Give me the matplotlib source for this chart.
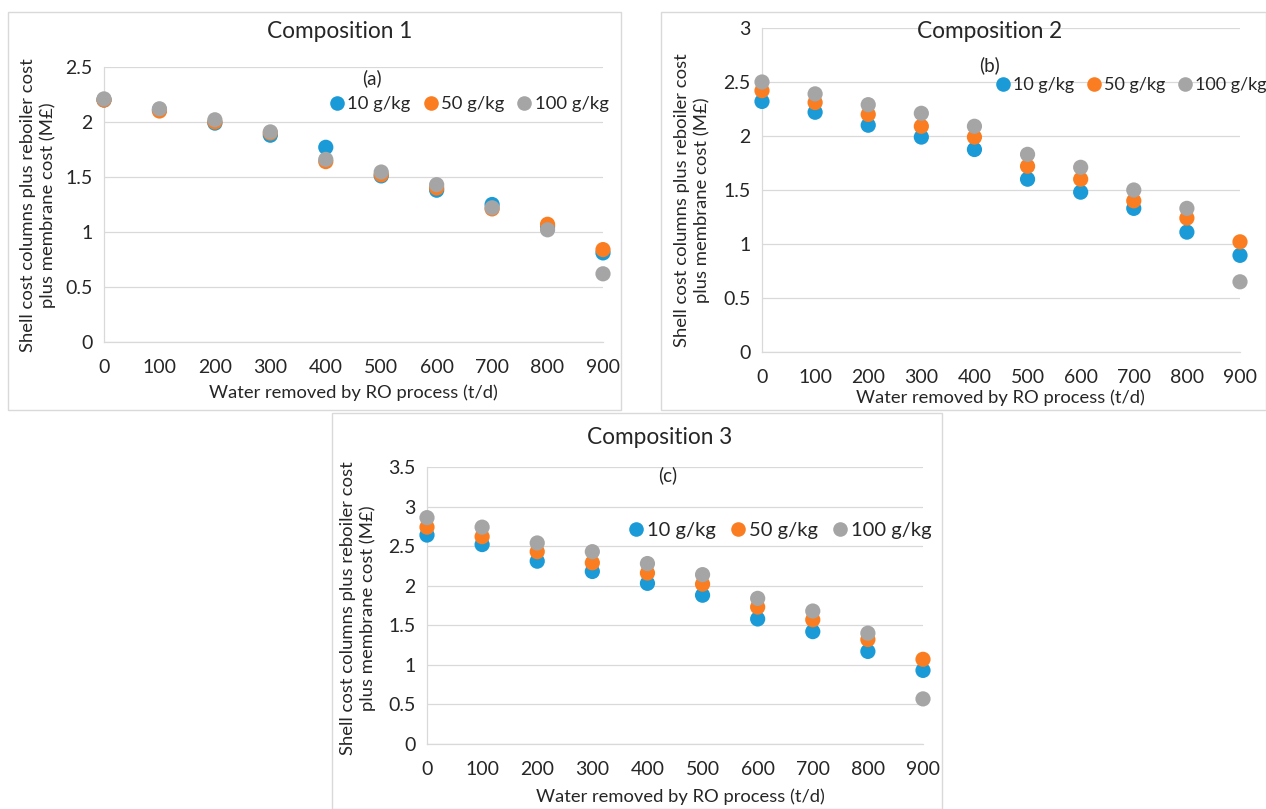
import matplotlib
matplotlib.use("Agg")
import matplotlib.pyplot as plt
from matplotlib.lines import Line2D
from matplotlib.patches import Rectangle

plt.rcParams['font.family'] = ['Lato', 'DejaVu Sans']

x_vals = [0, 100, 200, 300, 400, 500, 600, 700, 800, 900]
series_labels = ['10 g/kg', '50 g/kg', '100 g/kg']

comp1_10 = [2.20, 2.11, 1.99, 1.88, 1.77, 1.51, 1.38, 1.25, 1.05, 0.81]
comp1_50 = [2.20, 2.10, 2.00, 1.90, 1.64, 1.52, 1.40, 1.21, 1.07, 0.84]
comp1_100 = [2.21, 2.12, 2.02, 1.91, 1.66, 1.545, 1.43, 1.22, 1.02, 0.62]

comp2_10 = [2.32, 2.22, 2.10, 1.99, 1.875, 1.60, 1.48, 1.33, 1.11, 0.895]
comp2_50 = [2.42, 2.31, 2.20, 2.09, 1.99, 1.72, 1.60, 1.40, 1.24, 1.02]
comp2_100 = [2.50, 2.39, 2.29, 2.21, 2.09, 1.83, 1.71, 1.50, 1.33, 0.65]

comp3_10 = [2.64, 2.52, 2.31, 2.18, 2.03, 1.88, 1.58, 1.42, 1.17, 0.93]
comp3_50 = [2.74, 2.62, 2.43, 2.29, 2.16, 2.02, 1.73, 1.57, 1.32, 1.07]
comp3_100 = [2.86, 2.74, 2.54, 2.43, 2.28, 2.14, 1.84, 1.68, 1.40, 0.57]

colors = ['#1a9ad6', '#fa7d22', '#a5a5a5']

W, H = 1266, 809
fig = plt.figure(figsize=(W / 100, H / 100), dpi=100)
fig.patch.set_facecolor('white')

def px_rect(x0, y0, x1, y1):
    return [x0 / W, 1 - y1 / H, (x1 - x0) / W, (y1 - y0) / H]

def fx(x):
    return x / W

def fy(y):
    return 1 - y / H

# panel frames
for (x0, y0, x1, y1) in [(8, 12, 621, 410), (661, 12, 1266, 410), (332, 413, 942, 809)]:
    fig.add_artist(Rectangle((fx(x0), fy(y1)), fx(x1) - fx(x0), fy(y0) - fy(y1),
                             transform=fig.transFigure, fill=False,
                             edgecolor='#d9d9d9', linewidth=1.0))

ylabel = 'Shell cost columns plus reboiler cost\nplus membrane cost (M£)'
xlabel = 'Water removed by RO process (t/d)'

panels = [
    dict(rect=(104, 67, 603, 342), ymax=2.5, data=[comp1_10, comp1_50, comp1_100],
         title='Composition 1', title_xy=(340, 32), letter='(a)', letter_xy=(372, 78),
         leg_xy=(468, 104), leg_fs=13.3, ylab_x=38, ylab_y=205, xlab_xy=(353, 393)),
    dict(rect=(762, 28, 1240, 352), ymax=3.0, data=[comp2_10, comp2_50, comp2_100],
         title='Composition 2', title_xy=(990, 32), letter='(b)', letter_xy=(990, 65),
         leg_xy=(1130, 85), leg_fs=13.0, ylab_x=692, ylab_y=200, xlab_xy=(1000, 398)),
    dict(rect=(427, 467, 923, 744), ymax=3.5, data=[comp3_10, comp3_50, comp3_100],
         title='Composition 3', title_xy=(660, 437), letter='(c)', letter_xy=(668, 475),
         leg_xy=(779, 530), leg_fs=14.5, ylab_x=358, ylab_y=608, xlab_xy=(680, 797)),
]

for p in panels:
    ax = fig.add_axes(px_rect(*p['rect']))
    for ys, c, lab in zip(p['data'], colors, series_labels):
        ax.scatter(x_vals, ys, s=120, color=c, edgecolors='none', zorder=3, clip_on=False, label=lab)
    ax.set_xlim(0, 900)
    ax.set_ylim(0, p['ymax'])
    ax.set_xticks(x_vals)
    yt = [i * 0.5 for i in range(int(p['ymax'] / 0.5) + 1)]
    ax.set_yticks(yt)
    ax.set_yticklabels([('%g' % v) for v in yt])
    ax.grid(axis='y', color='#d9d9d9', linewidth=0.9, zorder=0)
    ax.set_axisbelow(True)
    for s in ['top', 'right']:
        ax.spines[s].set_visible(False)
    for s in ['left', 'bottom']:
        ax.spines[s].set_color('#d9d9d9')
        ax.spines[s].set_linewidth(0.9)
    ax.tick_params(length=0, labelsize=14, colors='#262626', pad=8)
    ax.tick_params(axis='x', pad=12)
    fig.text(fx(p['title_xy'][0]), fy(p['title_xy'][1]), p['title'], ha='center', va='center',
             fontsize=16.3, color='#262626')
    fig.text(fx(p['letter_xy'][0]), fy(p['letter_xy'][1]), p['letter'], ha='center', va='center',
             fontsize=13.5, color='#262626')
    fig.text(fx(p['ylab_x']), fy(p['ylab_y']), ylabel, rotation=90, ha='center', va='center',
             fontsize=13.3, color='#262626', multialignment='center', linespacing=1.3)
    fig.text(fx(p['xlab_xy'][0]), fy(p['xlab_xy'][1]), xlabel, ha='center', va='center',
             fontsize=13.2, color='#262626')
    handles = [Line2D([], [], marker='o', linestyle='none', markersize=10.5, markerfacecolor=c,
                      markeredgecolor='none') for c in colors]
    fig.legend(handles, series_labels, loc='center', ncol=3, frameon=False,
               bbox_to_anchor=(fx(p['leg_xy'][0]), fy(p['leg_xy'][1])),
               bbox_transform=fig.transFigure, fontsize=p['leg_fs'],
               handletextpad=0.05, columnspacing=0.6, handlelength=1.0, labelcolor='#262626')

fig.savefig('out.png', dpi=100, facecolor='white')
